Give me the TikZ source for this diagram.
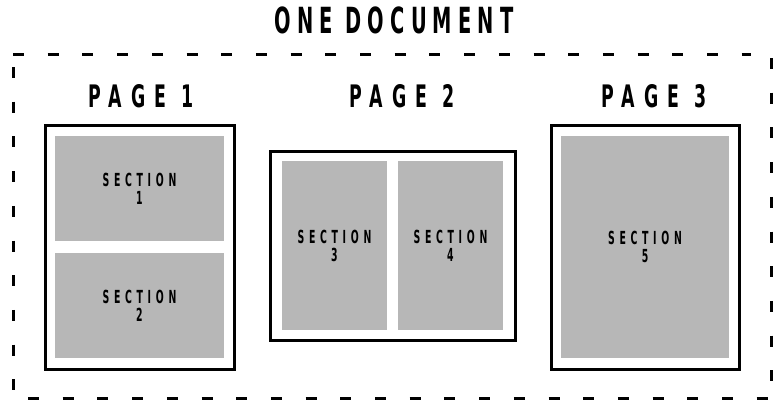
\documentclass[tikz,border=0pt]{standalone}
\usepackage{fontspec}
\newfontfamily\bbtitle[FakeStretch=0.54,LetterSpace=17]{DejaVu Sans Bold}
\newfontfamily\bbpage[FakeStretch=0.56,LetterSpace=30]{DejaVu Sans Bold}
\newfontfamily\bbsec[FakeStretch=0.52,LetterSpace=26]{DejaVu Sans Bold}
\definecolor{secgray}{RGB}{183,183,183}
\tikzset{
  pagebox/.style={draw=black, line width=3pt, fill=white, inner sep=0pt},
  secbox/.style={fill=secgray, draw=none, inner sep=0pt, align=center, font=\bbsec\fontsize{18}{18}\selectfont},
  titletext/.style={inner sep=0pt, font=\bbtitle\fontsize{36}{36}\selectfont},
  pagetitle/.style={inner sep=0pt, font=\bbpage\fontsize{31}{31}\selectfont},
  docborder/.style={draw=black, line width=3pt, dash pattern=on 11pt off 23.7pt}
}
\begin{document}
\begin{tikzpicture}[x=1pt,y=-1pt]
\useasboundingbox (0,0) rectangle (781,400);
% title
\node[titletext] (doc) at (394,20) {ONE DOCUMENT};
% dashed border
\draw[docborder] (13,54) -- (751,54);
\draw[docborder] (771,58) -- (771,382);
\draw[docborder] (13,67) -- (13,391);
\draw[docborder] (28,398.5) -- (768,398.5);
% page titles
\node[pagetitle] (t1) at (141,96) {PAGE 1};
\node[pagetitle] (t2) at (402,96) {PAGE 2};
\node[pagetitle] (t3) at (654,96) {PAGE 3};
% page 1
\node[pagebox, minimum width=189pt, minimum height=244pt] (p1) at (139.5,247) {};
\node[secbox, minimum width=169pt, minimum height=105pt] (s1) at (139.5,188.5) {SECTION\\1};
\node[secbox, minimum width=169pt, minimum height=105pt] (s2) at (139.5,305.5) {SECTION\\2};
% page 2
\node[pagebox, minimum width=245pt, minimum height=189pt] (p2) at (392.5,245.5) {};
\node[secbox, minimum width=105pt, minimum height=169pt] (s3) at (334.5,245.5) {SECTION\\3};
\node[secbox, minimum width=105pt, minimum height=169pt] (s4) at (450.5,245.5) {SECTION\\4};
% page 3
\node[pagebox, minimum width=188pt, minimum height=244pt] (p3) at (645,247) {};
\node[secbox, minimum width=168pt, minimum height=222pt] (s5) at (645,247) {SECTION\\5};
\end{tikzpicture}
\end{document}
